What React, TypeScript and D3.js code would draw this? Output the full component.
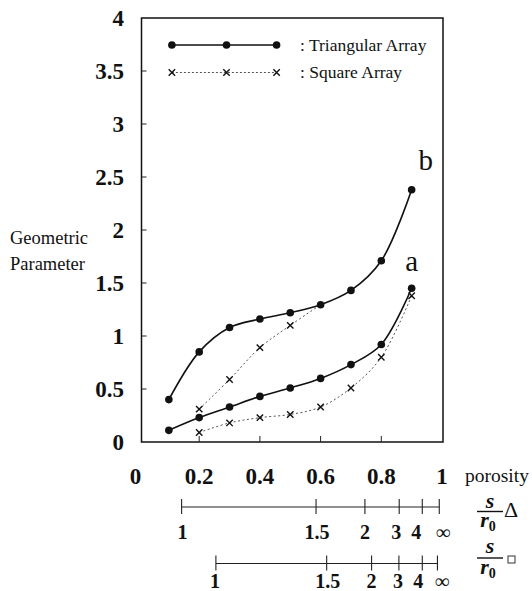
import React from 'react';
import * as d3 from 'd3';

// porosity positions of the markers
const porosity = [0.1, 0.2, 0.3, 0.4, 0.5, 0.6, 0.7, 0.8, 0.9];

// triangular array (solid, dots)
const triA = [0.11, 0.23, 0.33, 0.43, 0.51, 0.6, 0.73, 0.92, 1.45];
const triB = [0.4, 0.85, 1.08, 1.16, 1.22, 1.295, 1.43, 1.71, 2.38];

// square array (dotted, crosses)
const sqAx = [0.2, 0.3, 0.4, 0.5, 0.6, 0.7, 0.8, 0.9];
const sqA = [0.09, 0.18, 0.23, 0.26, 0.33, 0.51, 0.8, 1.38];
const sqBx = [0.2, 0.3, 0.4, 0.5, 0.6];
const sqB = [0.31, 0.59, 0.89, 1.1, 1.295];

const yTicks = [0, 0.5, 1, 1.5, 2, 2.5, 3, 3.5, 4];
const yTickLabels = ['0', '0.5', '1', '1.5', '2', '2.5', '3', '3.5', '4'];
const xTicks = [0, 0.2, 0.4, 0.6, 0.8, 1];
const xTickLabels = ['0', '0.2', '0.4', '0.6', '0.8', '1'];

// s/r0 scales read against porosity
const sLabels = ['1', '1.5', '2', '3', '4', '∞'];
const triScalePos = [0.142, 0.585, 0.746, 0.859, 0.935, 0.991];
const sqScalePos = [0.255, 0.62, 0.768, 0.858, 0.935, 0.985];

const legendX = [0.11, 0.29, 0.455];

const W = 532, H = 591;

type TProps = React.SVGProps<SVGTextElement> & { children?: React.ReactNode };
const T = ({ children, ...rest }: TProps) => (
  <text fill="#111" fontFamily="Liberation Serif" style={{ fontFamily: "'Liberation Serif'" }} {...rest}>{children}</text>
);

export default function App() {
  const x = d3.scaleLinear().domain([0, 1]).range([138.5, 442]);
  const y = d3.scaleLinear().domain([0, 4]).range([442, 18]);

  const line = d3.line<[number, number]>()
    .x(d => x(d[0]))
    .y(d => y(d[1]))
    .curve(d3.curveCatmullRom.alpha(0.5));

  const zip = (xs: number[], ys: number[]) => xs.map((v, i) => [v, ys[i]] as [number, number]);

  const boxL = 141.5, boxR = 443, boxT = 18, boxB = 442;

  const dot = (cx: number, cy: number, k: string) => (
    <circle key={k} cx={cx} cy={cy} r={3.8} fill="#111" />
  );
  const cross = (cx: number, cy: number, k: string) => (
    <path key={k} d={`M${cx - 3.2},${cy - 3.2}L${cx + 3.2},${cy + 3.2}M${cx - 3.2},${cy + 3.2}L${cx + 3.2},${cy - 3.2}`}
      stroke="#111" strokeWidth={1.4} />
  );

  const scaleRow = (pos: number[], lineY: number, labelY: number, offsets: number[], key: string) => (
    <g key={key}>
      <line x1={x(pos[0])} x2={x(pos[pos.length - 1])} y1={lineY} y2={lineY} stroke="#222" strokeWidth={1.1} />
      {pos.map((p, i) => (
        <line key={i} x1={x(p)} x2={x(p)} y1={lineY - 8} y2={lineY + 7} stroke="#222" strokeWidth={1.1} />
      ))}
      {pos.map((p, i) => (
        <T key={'t' + i} x={x(p) + offsets[i]} y={labelY} textAnchor="middle" fontSize={20} fontWeight="bold">
          {sLabels[i]}
        </T>
      ))}
    </g>
  );

  return (
    <svg width={W} height={H} style={{ position: 'absolute', left: 0, top: 0 }}>
      <rect x={0} y={0} width={W} height={H} fill="#fff" />
      {/* plot box */}
      <rect x={boxL} y={boxT} width={boxR - boxL} height={boxB - boxT} fill="none" stroke="#111" strokeWidth={1.5} />

      {/* y ticks */}
      {yTicks.map((t, i) => (
        <g key={'y' + i}>
          {i > 0 && i < yTicks.length - 1 && (
            <line x1={boxL} x2={boxL + 5} y1={y(t)} y2={y(t)} stroke="#222" strokeWidth={1} />
          )}
          <T x={124} y={y(t)} dy="0.35em" textAnchor="end" fontSize={23} fontWeight="bold">
            {yTickLabels[i]}
          </T>
        </g>
      ))}

      {/* x ticks */}
      {xTicks.map((t, i) => (
        <g key={'x' + i}>
          {i > 0 && i < xTicks.length - 1 && (
            <line x1={x(t)} x2={x(t)} y1={boxB} y2={boxB - 6} stroke="#222" strokeWidth={1} />
          )}
          <T x={x(t) - (i === 0 ? 3 : 0)} y={484} textAnchor="middle" fontSize={23} fontWeight="bold">
            {xTickLabels[i]}
          </T>
        </g>
      ))}

      {/* axis titles */}
      <T x={10} y={244} fontSize={18.5}>Geometric</T>
      <T x={10} y={270} fontSize={18.5}>Parameter</T>
      <T x={465} y={482} fontSize={19.5}>porosity</T>

      {/* square array (dotted) */}
      <path d={line(zip(sqBx, sqB)) || ''} fill="none" stroke="#555" strokeWidth={1} strokeDasharray="2,2.5" />
      <path d={line(zip(sqAx, sqA)) || ''} fill="none" stroke="#555" strokeWidth={1} strokeDasharray="2,2.5" />

      {/* triangular array (solid) */}
      <path d={line(zip(porosity, triB)) || ''} fill="none" stroke="#111" strokeWidth={1.6} />
      <path d={line(zip(porosity, triA)) || ''} fill="none" stroke="#111" strokeWidth={1.6} />

      {sqBx.slice(0, -1).map((v, i) => cross(x(v), y(sqB[i]), 'sb' + i))}
      {sqAx.map((v, i) => cross(x(v), y(sqA[i]), 'sa' + i))}
      {porosity.map((v, i) => dot(x(v), y(triB[i]), 'tb' + i))}
      {porosity.map((v, i) => dot(x(v), y(triA[i]), 'ta' + i))}

      {/* curve labels */}
      <T x={x(0.9) + 14} y={170} textAnchor="middle" fontSize={29}>b</T>
      <T x={x(0.9)} y={271} textAnchor="middle" fontSize={29}>a</T>

      {/* legend */}
      <line x1={x(legendX[0])} x2={x(legendX[2])} y1={45} y2={45} stroke="#111" strokeWidth={1.5} />
      {legendX.map((v, i) => dot(x(v), 45, 'l1' + i))}
      <line x1={x(legendX[0])} x2={x(legendX[2])} y1={72.5} y2={72.5} stroke="#555" strokeWidth={1} strokeDasharray="2,2" />
      {legendX.map((v, i) => cross(x(v), 72.5, 'l2' + i))}
      <T x={300} y={51} fontSize={17.5}>: Triangular Array</T>
      <T x={300} y={78} fontSize={17.5}>: Square Array</T>

      {/* s/r0 scales */}
      {scaleRow(triScalePos, 507, 539, [1, 1, 0, -3, -6, 4], 'tri')}
      {scaleRow(sqScalePos, 563.5, 588, [-1, 1, 0, -1, -4, 5], 'sq')}

      {/* fraction labels */}
      <T x={490} y={508} textAnchor="middle" fontSize={22} fontStyle="italic" fontWeight="bold">s</T>
      <line x1={477} x2={503} y1={511.5} y2={511.5} stroke="#111" strokeWidth={1.4} />
      <T x={488} y={527} textAnchor="middle" fontSize={22} fontStyle="italic" fontWeight="bold">
        r<tspan fontSize={14} fontStyle="normal" dy={4}>0</tspan>
      </T>
      <T x={504} y={517} fontSize={22}>Δ</T>

      <T x={490} y={553} textAnchor="middle" fontSize={22} fontStyle="italic" fontWeight="bold">s</T>
      <line x1={477} x2={503} y1={558} y2={558} stroke="#111" strokeWidth={1.4} />
      <T x={488} y={574} textAnchor="middle" fontSize={22} fontStyle="italic" fontWeight="bold">
        r<tspan fontSize={14} fontStyle="normal" dy={4}>0</tspan>
      </T>
      <rect x={508} y={556} width={7} height={7} fill="none" stroke="#333" strokeWidth={1} />
    </svg>
  );
}
